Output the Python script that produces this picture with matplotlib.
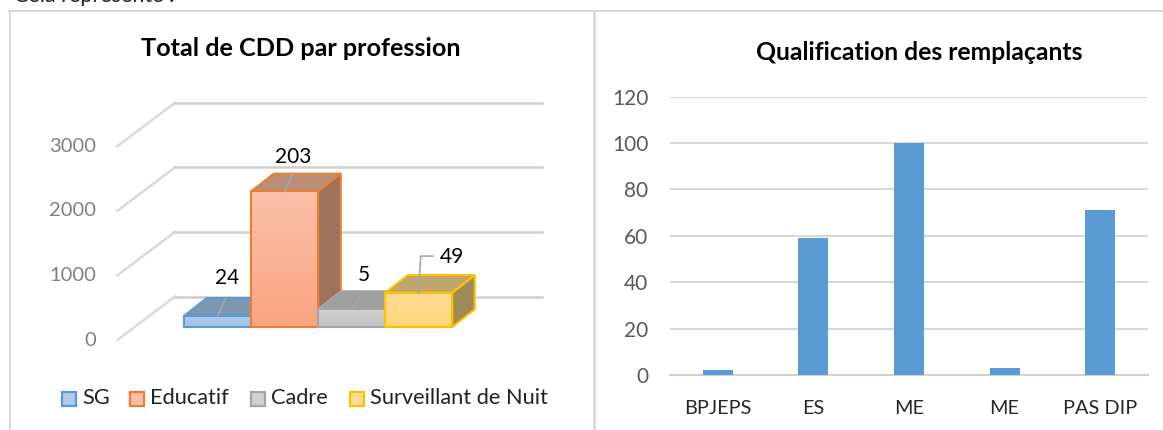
import matplotlib
matplotlib.use('Agg')
import matplotlib.pyplot as plt
import numpy as np
from matplotlib.colors import to_rgb
from matplotlib.patches import Polygon, Rectangle

W, H = 1163, 430

# graphique 1
professions = ['SG', 'Educatif', 'Cadre', 'Surveillant de Nuit']
hauteurs = [175, 2100, 280, 530]
etiquettes = ['24', '203', '5', '49']
ticks_3d = [0, 1000, 2000, 3000]
couleurs_bord = ['#5b9bd5', '#ed7d31', '#a5a5a5', '#ffc000']
couleurs_haut = ['#b0cbeb', '#fbc0a8', '#d2d2d2', '#ffdc96']
couleurs_bas = ['#a3c2e6', '#f9a482', '#c2c2c2', '#ffd67a']
couleurs_dessus = ['#7f97b2', '#bb8e78', '#9f9f9f', '#c1a56f']
couleurs_cote = ['#6f8aa8', '#9c725c', '#8c8c8c', '#a08a56']

# graphique 2
qualifs = ['BPJEPS', 'ES', 'ME', 'ME', 'PAS DIP']
effectifs = [2, 59, 100, 3, 71]
ticks_2d = [0, 20, 40, 60, 80, 100, 120]

plt.rcParams['font.family'] = ['Lato', 'DejaVu Sans']

fig = plt.figure(figsize=(W / 100, H / 100), dpi=100)
fond = fig.add_axes([0, 0, 1, 1])
fond.set_xlim(0, W)
fond.set_ylim(H, 0)
fond.axis('off')

# cadres et texte coupe en haut de page
fond.plot([9, W], [11, 11], color='#d9d9d9', lw=1.5)
fond.plot([10, 10], [11, H], color='#d9d9d9', lw=1.5)
fond.plot([594, 594], [11, H], color='#d9d9d9', lw=2)
fond.text(14, 2, 'Cela représente :', fontsize=15.5, color='#222222', va='baseline', clip_on=True)

# --- graphique 3D ---
# axe en unites categorie / valeur : 67 px par barre, 64.6 px pour 1000
px_x = 67.0
px_y = 0.0646
ax1 = fig.add_axes([0, 0, 1, 1])
ax1.patch.set_alpha(0)

prof_x = 57.6 / px_x
prof_y = 43.5 / px_y
x_gauche = (117.4 - 217.7) / px_x
x_droite = (542 - 217.7) / px_x
for v in ticks_3d:
    ax1.plot([x_gauche, x_gauche + prof_x], [v, v + prof_y], color='#d9d9d9', lw=1.8, zorder=1)
    ax1.plot([x_gauche + prof_x, x_droite], [v + prof_y, v + prof_y], color='#cfcfcf', lw=1.8, zorder=1)
    ax1.text(x_gauche - 21 / px_x, v, str(v), ha='right', va='center', fontsize=14.5, color='#808080')

# barres, socle a mi-profondeur, dessinees de gauche a droite
base = 13 / px_y
bx = 22.6 / px_x
by = 17.7 / px_y
rappel_dx = [0.12, 0.12, 0.2, 0]
label_dx = [0.14, 0.12, 0.18, 0.49]
label_dy = [310, 263, 248, 279]
for i, h in enumerate(hauteurs):
    g, d = i - 0.5, i + 0.5
    haut = base + h
    z = 3 + i
    ax1.add_patch(Polygon([(d, base), (d + bx, base + by), (d + bx, haut + by), (d, haut)],
                          fc=couleurs_cote[i], ec=couleurs_bord[i], lw=1.5, zorder=z))
    ax1.add_patch(Polygon([(g, haut), (g + bx, haut + by), (d + bx, haut + by), (d, haut)],
                          fc=couleurs_dessus[i], ec=couleurs_bord[i], lw=1.5, zorder=z))
    # face avant en degrade leger
    degrade = np.linspace(to_rgb(couleurs_haut[i]), to_rgb(couleurs_bas[i]), 32).reshape(32, 1, 3)
    ax1.imshow(degrade, extent=(g, d, base, haut), origin='upper', aspect='auto', zorder=z + 0.1)
    ax1.bar(i, h, width=1, bottom=base, fc='none', edgecolor=couleurs_bord[i], lw=1.5, zorder=z + 0.2)
    if rappel_dx[i]:
        ax1.plot([i, i + rappel_dx[i]], [haut, haut + by], color='#a6a6a6', lw=1.2, zorder=z + 0.3)
    ax1.text(i + label_dx[i], haut + by + label_dy[i], etiquettes[i], ha='center', va='center',
             fontsize=15, color='black', zorder=9)

# trait coude de la derniere etiquette
haut3 = base + hauteurs[3]
ax1.plot([3, 3.03, 3.21], [haut3, haut3 + 568, haut3 + 568], color='#a6a6a6', lw=1.2, zorder=8)

ax1.set_xlim((0 - 217.7) / px_x, (W - 217.7) / px_x)
ax1.set_ylim((340 - H) / px_y, 340 / px_y)
ax1.axis('off')

fond.text(301, 48, 'Total de CDD par profession', ha='center', va='center',
          fontsize=18.2, fontweight='bold', color='black')

# legende
pos_leg = [62, 130, 251, 350]
for i, nom in enumerate(professions):
    fond.add_patch(Rectangle((pos_leg[i], 391.5), 14, 14, fc=couleurs_haut[i], ec=couleurs_bord[i], lw=1.6))
    fond.text(pos_leg[i] + 20, 398, nom, ha='left', va='center', fontsize=15.7, color='#222222')

# --- graphique en barres ---
ax2 = fig.add_axes([670 / W, 1 - 375 / H, (1148 - 670) / W, (375 - 96.7) / H])
ax2.patch.set_alpha(0)
x = list(range(len(qualifs)))
ax2.bar(x, effectifs, width=0.315, color='#5b9bd5', zorder=3)
ax2.set_xlim(-0.5, 4.5)
ax2.set_ylim(0, 120)
ax2.set_yticks(ticks_2d)
ax2.set_xticks(x)
ax2.set_xticklabels(qualifs)
ax2.grid(axis='y', color='#d9d9d9', lw=1.5, zorder=0)
for s in ['top', 'left', 'right']:
    ax2.spines[s].set_visible(False)
ax2.spines['bottom'].set_color('#d0d0d0')
ax2.spines['bottom'].set_linewidth(1.5)
ax2.tick_params(axis='y', length=0, pad=15.5, labelsize=15, labelcolor='#595959')
ax2.tick_params(axis='x', length=0, pad=18, labelsize=14.3, labelcolor='#262626')
fond.text(919.5, 53, 'Qualification des remplaçants', ha='center', va='center',
          fontsize=17.8, fontweight='bold', color='black')

fig.savefig('out.png', dpi=100)
